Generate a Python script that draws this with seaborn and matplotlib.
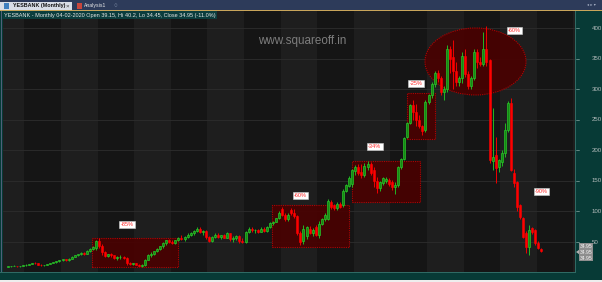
import numpy as np
import pandas as pd
import matplotlib
matplotlib.use("Agg")
import matplotlib.pyplot as plt
import seaborn as sns
from matplotlib.patches import Rectangle, Ellipse, Polygon
from matplotlib.transforms import blended_transform_factory

# ---------------- data (monthly OHLC, Jul-2005 .. Feb-2020) ----------------
first_month = "2005-07-01"
opens = [
    9.5, 10, 10.5, 11, 10, 11,
    12, 13, 14, 16, 15, 13, 12, 12.5, 14, 15.5, 17, 18.5,
    20, 22, 20, 23, 26, 28.5, 30, 32, 31, 35, 39, 40,
    52, 44, 33, 27, 30, 28, 24, 25, 26, 24, 15, 14,
    15, 13, 11, 12.5, 21, 28, 31, 35, 38, 43, 48, 53,
    50, 49, 53, 57, 55, 59, 62, 65, 68, 72, 66, 68,
    58, 52, 58, 62, 58, 61, 57, 64, 55, 56, 60, 52,
    50, 66, 72, 69, 70, 67, 72, 68, 74, 81, 83, 89,
    104, 95, 87, 102, 97, 92, 65, 52, 60, 72, 64, 75,
    62, 80, 87, 88, 115, 110, 105, 113, 110, 134, 142, 145,
    166, 172, 165, 160, 172, 178, 168, 150, 138, 146, 150, 151,
    148, 140, 143, 172, 186, 222, 245, 274, 262, 250, 240, 233,
    279, 290, 309, 326, 318, 296, 300, 366, 352, 330, 312, 318,
    355, 325, 305, 318, 361, 345, 342, 366, 348, 182, 192, 172,
    181, 196, 233, 277, 163, 148, 110, 89, 65, 42, 73, 70,
    48, 39.15,
]
highs = [
    11, 11, 12, 11.5, 11.5, 12.5,
    13.5, 14.5, 16.5, 17.5, 16, 14, 13, 14.5, 16, 17.5, 19, 21,
    23, 23, 24, 27, 29.5, 31, 33.5, 34, 36.5, 41, 43, 54,
    56, 47, 36, 31, 32, 29, 27, 28, 27.5, 25, 17, 16,
    16, 14, 14, 22, 30, 33, 36, 40, 44, 50, 54, 55,
    53, 54, 58, 61, 60, 64, 66, 69, 74, 75, 70, 69,
    60, 60, 64, 65, 62, 63, 66, 65, 60, 62, 61, 57,
    68, 75, 74, 72, 72, 74, 75, 76, 82, 85, 90, 101,
    107, 98, 97, 105, 104, 95, 68, 78, 77, 76, 73, 78,
    84, 89, 97, 120, 118, 113, 116, 115, 136, 145, 158, 170,
    176, 178, 178, 180, 182, 181, 172, 157, 150, 157, 156, 155,
    152, 148, 175, 188, 222, 247, 276, 282, 275, 258, 242, 282,
    292, 312, 330, 332, 322, 306, 372, 370, 380, 345, 322, 360,
    365, 330, 322, 366, 365, 352, 394, 404, 350, 269, 222, 186,
    200, 244, 280, 285, 170, 150, 112, 91, 68, 78, 75, 72,
    52, 40.2,
]
lows = [
    9, 9.5, 10, 9.5, 9.8, 10.5,
    11.5, 12.5, 13.5, 14.5, 12.5, 11, 11, 12, 13.5, 15, 16.5, 17.5,
    19, 19.5, 19.5, 22.5, 25.5, 27, 29, 29.5, 30.5, 34.5, 37, 37.5,
    41, 29, 25, 25, 26, 22, 21, 23, 22, 12, 12, 12.5,
    12, 10.5, 9, 11.5, 20, 25, 28, 33, 37, 41, 45, 48.5,
    47, 47, 52, 54, 52, 57, 60, 62, 66, 65, 62, 55,
    50, 50, 56, 57, 55, 56, 56, 52, 50, 54, 48, 48,
    49, 64, 66, 65, 64, 66, 67, 67, 73, 78, 82, 87,
    93, 85, 84, 94, 90, 62, 45, 47, 55, 63, 60, 60,
    56, 78, 85, 86, 104, 103, 103, 105, 108, 132, 140, 140,
    160, 160, 155, 157, 168, 160, 140, 130, 133, 144, 146, 142,
    135, 128, 140, 170, 184, 220, 243, 250, 240, 236, 225, 230,
    276, 286, 303, 312, 290, 282, 296, 326, 300, 305, 305, 310,
    320, 300, 300, 315, 335, 338, 338, 338, 180, 168, 146, 165,
    175, 189, 230, 166, 140, 100, 88, 56, 32, 29, 63, 45,
    39, 34.45,
]
closes = [
    10, 10.5, 11, 10, 11, 12,
    13, 14, 16, 15, 13, 12, 12.5, 14, 15.5, 17, 18.5, 20,
    22, 20, 23, 26, 28.5, 30, 32, 31, 35, 39, 42, 52,
    44, 33, 27, 30, 28, 24, 25, 26, 24, 15, 14, 15,
    13, 11, 12.5, 21, 28, 31, 35, 38, 43, 48, 53, 50,
    49, 53, 57, 55, 59, 62, 65, 68, 72, 66, 68, 58,
    52, 58, 62, 58, 61, 57, 64, 55, 56, 60, 52, 50,
    66, 72, 69, 70, 67, 72, 68, 74, 81, 83, 89, 98,
    95, 87, 94, 97, 92, 65, 50, 72, 75, 64, 70, 62,
    80, 87, 95, 117, 107, 105, 113, 108, 134, 143, 155, 167,
    172, 163, 160, 175, 178, 163, 150, 138, 148, 154, 153, 145,
    140, 143, 172, 186, 220, 245, 274, 262, 250, 240, 232, 279,
    290, 309, 326, 318, 296, 300, 366, 350, 330, 312, 318, 355,
    325, 305, 318, 361, 345, 342, 366, 344, 184, 189, 171, 184,
    196, 233, 277, 168, 146, 107, 91, 58, 42, 70, 66, 48,
    40, 34.95,
]
year_labels = list(range(2005, 2021))
price_ticks = [50, 100, 150, 200, 250, 300, 350, 400]
zone_boxes = [  # (start year, end year, low price, high price, label, label x, label y)
    (2007.85, 2010.20, 9.2, 56.6, "-85%", 2008.80, 78.7),
    (2012.77, 2014.87, 41.9, 110.6, "-60%", 2013.54, 126.1),
    (2014.95, 2016.81, 115.5, 182.5, "-34%", 2015.57, 206.2),
    (2016.45, 2017.22, 218.5, 293.7, "-25%", 2016.70, 309.3),
]
ellipse_zone = (2018.325, 345.3, 2.76, 109.6, "-60%", 2019.39, 396.0)
last_label = ("-90%", 2020.13, 132.6)
title_text = "YESBANK - Monthly 04-02-2020 Open 39.15, Hi 40.2, Lo 34.45, Close 34.95 (-11.0%)"
last_price = "34.95"

dates = pd.date_range(first_month, periods=len(closes), freq="MS")
df = pd.DataFrame({"date": dates, "open": opens, "high": highs, "low": lows, "close": closes})
df["x"] = df["date"].dt.year + (df["date"].dt.month - 1) / 12 + 1 / 24
df["up"] = df["close"] >= df["open"]

# ---------------- style ----------------
sns.set_theme(style="dark", rc={"axes.facecolor": "#151515", "figure.facecolor": "#073a36",
                                "axes.edgecolor": "#151515"})
plt.rcParams["font.family"] = ["Liberation Sans", "DejaVu Sans"]

W, H = 602, 282
fig = plt.figure(figsize=(W / 100, H / 100), dpi=100)

def fy(py):
    return 1 - py / H

def frect(x0, y0, x1, y1, color, z=0):
    fig.add_artist(Rectangle((x0 / W, fy(y1)), (x1 - x0) / W, (y1 - y0) / H,
                             transform=fig.transFigure, facecolor=color, edgecolor="none", zorder=z))

# chart axes: price 0 at pixel row 272.6, 0.6114 px per rupee
y0px, ytop = 272.6, 11
ax = fig.add_axes([3 / W, fy(y0px), 572 / W, (y0px - ytop) / H])
x_left = 2007 + (3 - 61) / 36.6
x_right = 2007 + (575 - 61) / 36.6
ax.set_xlim(x_left, x_right)
ax.set_ylim(0, (y0px - ytop) / 0.6114)
ax.set_xticks([])
ax.set_yticks([])
for s in ax.spines.values():
    s.set_visible(False)

# alternating year bands
for yr in range(2005, 2022):
    if yr % 2 == 1:
        ax.axvspan(yr, yr + 1, color="#1e1e1e", lw=0, zorder=0)
for p in price_ticks:
    ax.axhline(p, color="#2d2d2d", lw=0.6, zorder=0.5)

lab_kw = dict(color="#ff2a2a", fontsize=4.0, ha="center", va="center", zorder=5,
              bbox=dict(boxstyle="square,pad=0.22", fc="white", ec="#cccccc", lw=0.4))
# zones
for (xa, xb, lo, hi, lab, lx, ly) in zone_boxes:
    ax.add_patch(Rectangle((xa, lo), xb - xa, hi - lo, facecolor="#4a0000", edgecolor="#c00000",
                           lw=0.8, ls=(0, (1, 1)), alpha=0.9, zorder=1))
    ax.text(lx, ly, lab, **lab_kw)
ex, ey, ew, eh, elab, elx, ely = ellipse_zone
ax.add_patch(Ellipse((ex, ey), ew, eh, facecolor="#4a0000", edgecolor="#c00000",
                     lw=0.8, ls=(0, (1, 1)), alpha=0.9, zorder=1))
ax.text(elx, ely, elab, **lab_kw)
ax.text(last_label[1], last_label[2], last_label[0], **lab_kw)

# candles
up = df[df["up"]]
dn = df[~df["up"]]
bw = 0.055
ax.vlines(up["x"], up["low"], up["high"], color="#22b822", lw=0.7, zorder=2)
ax.vlines(dn["x"], dn["low"], dn["high"], color="#f00000", lw=0.7, zorder=2)
ax.bar(up["x"], (up["close"] - up["open"]).clip(lower=0.8), bottom=up["open"], width=bw,
       color="#138a13", edgecolor="#2ac42a", lw=0.5, zorder=3)
ax.bar(dn["x"], (dn["open"] - dn["close"]).clip(lower=0.8), bottom=dn["close"], width=bw,
       color="#ff0000", edgecolor="#ff0000", lw=0.4, zorder=3)

# watermark
ax.text(2007 + (302.5 - 61) / 36.6, (y0px - 41) / 0.6114, "www.squareoff.in",
        color="#7d7d7d", fontsize=8.4, ha="center", va="center", zorder=4)

# ---------------- chrome ----------------
frect(0, 0, W, 10, "#2d3b5a", 10)
frect(0, 10, W, 11, "#c9a55a", 10)
frect(0, 2, 72, 10, "#d8dde6", 11)
fig.text(13 / W, fy(6), "YESBANK (Monthly)", fontsize=3.9, fontweight="bold", color="#111111",
         va="center", zorder=12)
fig.text(66 / W, fy(6), "×", fontsize=4.5, color="#333333", va="center", zorder=12)
frect(4, 3, 9, 9, "#3f7fbf", 12)
frect(77, 3, 82, 9, "#c8463c", 12)
fig.text(84 / W, fy(6), "Analysis1", fontsize=3.7, color="#e8e8e8", va="center", zorder=12)
fig.text(113 / W, fy(6), "○", fontsize=4.5, color="#8090a8", va="center", zorder=12)
fig.text(587 / W, fy(5.5), "◂ ▸ ▾", fontsize=3.0, color="#aab4c8", va="center", zorder=12,
         family=["DejaVu Sans"])

# title strip
fig.text(4 / W, fy(15), title_text, fontsize=3.95, color="#e6e6e6", va="center", zorder=12,
         bbox=dict(boxstyle="square,pad=0.2", fc="#0b3d3d", ec="none"))

# left edge line
frect(1, 11, 2.2, 272, "#50607a", 9)

# right panel
frect(575, 11, W, 280, "#073a36", 8)
frect(575, 11, 576, 273, "#2f6a64", 9)
tr_r = blended_transform_factory(fig.transFigure, ax.transData)
for p in price_ticks:
    fig.text(591.5 / W, p, str(p), transform=tr_r, fontsize=4.4, color="#b4bcbc",
             va="center", ha="left", zorder=12)
    fig.add_artist(plt.Line2D([576 / W, 579 / W], [p, p], transform=tr_r, color="#8aa8a4",
                              lw=0.5, zorder=12))
for off in [-6, 0, 6]:
    fig.text(580 / W, fy(252 + off), last_price, fontsize=3.6, color="#f4f4f4", va="center",
             zorder=13, bbox=dict(boxstyle="square,pad=0.15", fc="#8e8e8e", ec="none"))
fig.add_artist(Polygon([[576 / W, fy(252)], [579.5 / W, fy(249.5)], [579.5 / W, fy(254.5)]],
                       closed=True, transform=fig.transFigure, facecolor="#b0b0b0",
                       edgecolor="none", zorder=13))

# bottom strip
frect(0, 272.6, 575, 280, "#073a36", 8)
frect(0, 272.3, 575, 273.1, "#2f6a64", 9)
frect(0, 280, W, H, "#eeeeee", 9)
tr_b = blended_transform_factory(ax.transData, fig.transFigure)
for yr in year_labels:
    xpos = yr + 1.0 / 36.6 if yr > 2005 else 2005.62
    ax.text(xpos, fy(276.3), str(yr), transform=tr_b, fontsize=4.2, fontweight="bold",
            color="white", va="center", ha="left", zorder=12, clip_on=False,
            bbox=dict(boxstyle="square,pad=0.1", fc="#1a1a1a", ec="none"))

fig.savefig("out.png", dpi=100)
